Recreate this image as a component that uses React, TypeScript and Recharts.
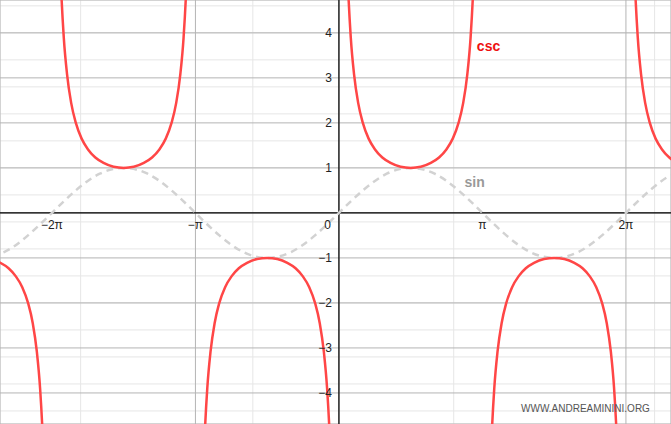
import React from "react";
import {
  LineChart,
  Line,
  XAxis,
  YAxis,
  CartesianGrid,
  ReferenceLine,
  ReferenceDot,
} from "recharts";

const PI = Math.PI;

// visible window
const xDomain = [-7.42, 7.27];
const yDomain = [-4.69, 4.73];

// ticks and gridlines
const majorXTicks = [-2 * PI, -PI, 0, PI, 2 * PI];
const majorXLabels = ["−2π", "−π", "", "π", "2π"];
const minorXTicks = Array.from({ length: 23 }, (_, i) => ((i - 11) * PI) / 5);
const majorYTicks = [-4, -3, -2, -1, 0, 1, 2, 3, 4];
const yLabels = ["−4", "−3", "−2", "−1", "", "1", "2", "3", "4"];
const minorYTicks = Array.from({ length: 47 }, (_, i) => Math.round((i - 23) * 2) / 10);

// sin, sampled every π/6
const sinX = [
  -7.854, -7.33, -6.807, -6.283, -5.76, -5.236, -4.712, -4.189, -3.665, -3.142,
  -2.618, -2.094, -1.571, -1.047, -0.524, 0, 0.524, 1.047, 1.571, 2.094, 2.618,
  3.142, 3.665, 4.189, 4.712, 5.236, 5.76, 6.283, 6.807, 7.33, 7.854,
];
const sinY = [
  -1, -0.87, -0.5, 0, 0.5, 0.87, 1, 0.87, 0.5, 0, -0.5, -0.87, -1, -0.87, -0.5,
  0, 0.5, 0.87, 1, 0.87, 0.5, 0, -0.5, -0.87, -1, -0.87, -0.5, 0, 0.5, 0.87, 1,
];

// one csc branch: distance from the asymptote, and |csc|
const cscOffsets = [
  0.08, 0.12, 0.16, 0.2, 0.26, 0.33, 0.42, 0.52, 0.65, 0.79, 0.95, 1.13, 1.35,
  1.571, 1.792, 2.012, 2.192, 2.352, 2.492, 2.622, 2.722, 2.812, 2.882, 2.942,
  2.982, 3.022, 3.062,
];
const cscMagnitudes = [
  12.51, 8.35, 6.28, 5.03, 3.89, 3.09, 2.45, 2.01, 1.65, 1.41, 1.23, 1.11, 1.025,
  1, 1.025, 1.11, 1.23, 1.41, 1.65, 2.01, 2.45, 3.09, 3.89, 5.03, 6.28, 8.35,
  12.51,
];
const cscBranchStarts = [-3 * PI, -2 * PI, -PI, 0, PI, 2 * PI];
const cscBranchSigns = [-1, 1, -1, 1, -1, 1];

const sinData = sinX.map((x, i) => ({ x, y: sinY[i] }));
const cscData = cscBranchStarts.map((start, b) =>
  cscOffsets.map((o, i) => ({ x: start + o, y: cscBranchSigns[b] * cscMagnitudes[i] }))
);

const RED = "#ff4646";
const FONT = "'Liberation Sans', Arial, sans-serif";

export default function App() {
  return (
    <div style={{ position: "absolute", left: 0, top: 0, width: 671, height: 424, background: "#fff" }}>
      <LineChart width={671} height={424} margin={{ top: 0, right: 0, bottom: 0, left: 0 }}>
        <XAxis xAxisId="minor" type="number" dataKey="x" domain={xDomain} ticks={minorXTicks} allowDataOverflow hide />
        <YAxis yAxisId="minor" type="number" domain={yDomain} ticks={minorYTicks} allowDataOverflow hide />
        <XAxis xAxisId="major" type="number" dataKey="x" domain={xDomain} ticks={majorXTicks} allowDataOverflow hide />
        <YAxis yAxisId="major" type="number" domain={yDomain} ticks={majorYTicks} allowDataOverflow hide />

        <CartesianGrid xAxisId="minor" yAxisId="minor" stroke="#e6e6e6" strokeWidth={1} />
        <CartesianGrid xAxisId="major" yAxisId="major" stroke="#b4b4b4" strokeWidth={1} />

        <ReferenceLine xAxisId="major" yAxisId="major" x={0} stroke="#000" strokeWidth={1.2} />
        <ReferenceLine xAxisId="major" yAxisId="major" y={0} stroke="#000" strokeWidth={1.2} />

        {majorXTicks.map((t, i) =>
          majorXLabels[i] ? (
            <ReferenceDot
              key={"xl" + i}
              xAxisId="major"
              yAxisId="major"
              x={t}
              y={0}
              r={0}
              shape={(p: any) => (
                <text x={p.cx} y={p.cy + 16} textAnchor="middle" fontSize={12} fontFamily={FONT} fill="#222">
                  {majorXLabels[i]}
                </text>
              )}
            />
          ) : null
        )}
        {majorYTicks.map((t, i) =>
          yLabels[i] ? (
            <ReferenceDot
              key={"yl" + i}
              xAxisId="major"
              yAxisId="major"
              x={0}
              y={t}
              r={0}
              shape={(p: any) => (
                <text x={p.cx - 7} y={p.cy + 4.5} textAnchor="end" fontSize={12} fontFamily={FONT} fill="#222">
                  {yLabels[i]}
                </text>
              )}
            />
          ) : null
        )}
        <ReferenceDot
          xAxisId="major"
          yAxisId="major"
          x={0}
          y={0}
          r={0}
          shape={(p: any) => (
            <text x={p.cx - 8} y={p.cy + 16} textAnchor="end" fontSize={12} fontFamily={FONT} fill="#222">
              0
            </text>
          )}
        />

        <Line
          xAxisId="major"
          yAxisId="major"
          data={sinData}
          dataKey="y"
          type="natural"
          stroke="#d2d2d2"
          strokeWidth={2.5}
          strokeDasharray="7 5"
          dot={false}
          activeDot={false}
          isAnimationActive={false}
        />
        {cscData.map((d, b) => (
          <Line
            key={"csc" + b}
            xAxisId="major"
            yAxisId="major"
            data={d}
            dataKey="y"
            type="monotone"
            stroke={RED}
            strokeWidth={2.5}
            dot={false}
            activeDot={false}
            isAnimationActive={false}
          />
        ))}

        <ReferenceDot
          xAxisId="major"
          yAxisId="major"
          x={3.02}
          y={3.6}
          r={0}
          shape={(p: any) => (
            <text x={p.cx} y={p.cy} fontSize={14} fontWeight="bold" fontFamily={FONT} fill="#ee1111">
              csc
            </text>
          )}
        />
        <ReferenceDot
          xAxisId="major"
          yAxisId="major"
          x={2.75}
          y={0.58}
          r={0}
          shape={(p: any) => (
            <text x={p.cx} y={p.cy} fontSize={14} fontWeight="bold" fontFamily={FONT} fill="#999">
              sin
            </text>
          )}
        />
      </LineChart>
      <div
        style={{
          position: "absolute",
          left: 521,
          top: 403,
          fontFamily: FONT,
          fontSize: 10,
          color: "#555",
          whiteSpace: "nowrap",
        }}
      >
        WWW.ANDREAMININI.ORG
      </div>
    </div>
  );
}
